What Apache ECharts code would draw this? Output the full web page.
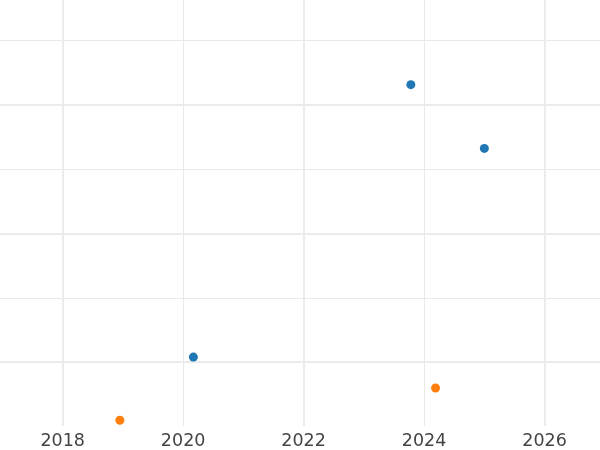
<!DOCTYPE html>
<html>
<head>
<meta charset="utf-8">
<script src="https://cdn.jsdelivr.net/npm/echarts@6/dist/echarts.min.js"></script>
<style>
  html, body { margin: 0; padding: 0; background: #fff; }
  #chart { width: 600px; height: 450px; }
</style>
</head>
<body>
<div id="chart"></div>
<script>
// x range and ticks
var xMin = 2016.96
var xMax = 2026.92
var xLabels = [2018, 2020, 2022, 2024, 2026]
var xMajor = [2018, 2022, 2026]
var xMinor = [2020, 2024]
// y range (no labels shown)
var yMin = 1.01
var yMax = 7.625
var yMajor = [2, 4, 6]
var yMinor = [3, 5, 7]
// points
var blueX = [2020.17, 2023.78, 2025.0]
var blueY = [2.08, 6.31, 5.32]
var orangeX = [2018.95, 2024.19]
var orangeY = [1.10, 1.60]

function pairs (xs, ys) {
  return xs.map(function (x, i) { return [x, ys[i]] })
}

var chart = echarts.init(document.getElementById('chart'))
var option = {
  animation: false,
  backgroundColor: '#fff',
  grid: { left: 0, right: 0, top: 0, bottom: 23.5, containLabel: false },
  xAxis: [{
    type: 'value',
    min: xMin,
    max: xMax,
    position: 'bottom',
    axisLine: { show: false },
    axisTick: { show: false, customValues: xMinor },
    axisLabel: {
      customValues: xLabels,
      formatter: function (v) { return String(v) },
      color: '#444',
      fontSize: 17.5,
      fontFamily: 'DejaVu Sans',
      margin: 6
    },
    splitLine: { show: true, lineStyle: { color: '#e9e9e9', width: 1 } }
  }, {
    type: 'value',
    min: xMin,
    max: xMax,
    position: 'bottom',
    axisLine: { show: false },
    axisTick: { show: false, customValues: xMajor },
    axisLabel: { show: false },
    splitLine: { show: true, lineStyle: { color: '#ebebeb', width: 2 } }
  }],
  yAxis: [{
    type: 'value',
    min: yMin,
    max: yMax,
    axisLine: { show: false },
    axisTick: { show: false, customValues: yMinor },
    axisLabel: { show: false },
    splitLine: { show: true, lineStyle: { color: '#e9e9e9', width: 1 } }
  }, {
    type: 'value',
    min: yMin,
    max: yMax,
    position: 'left',
    axisLine: { show: false },
    axisTick: { show: false, customValues: yMajor },
    axisLabel: { show: false },
    splitLine: { show: true, lineStyle: { color: '#ebebeb', width: 2 } }
  }],
  series: [{
    name: 'trace 0',
    type: 'scatter',
    symbolSize: 9,
    itemStyle: { color: '#1f77b4', opacity: 1 },
    data: pairs(blueX, blueY)
  }, {
    name: 'trace 1',
    type: 'scatter',
    symbolSize: 9,
    itemStyle: { color: '#ff7f0e', opacity: 1 },
    data: pairs(orangeX, orangeY)
  }]
}
chart.setOption(option)
</script>
</body>
</html>
